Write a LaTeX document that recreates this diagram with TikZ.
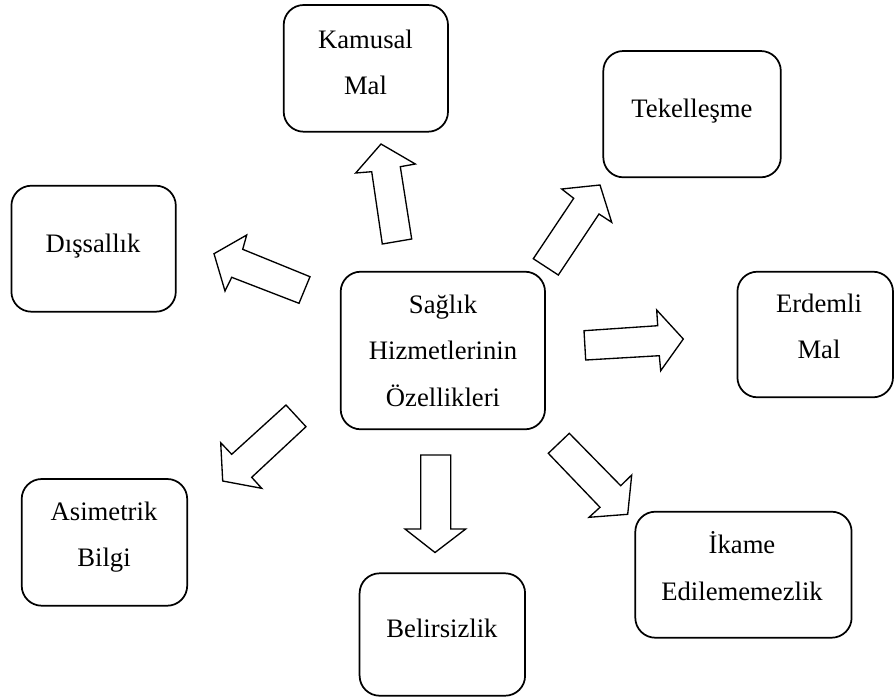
\documentclass[tikz,border=0pt]{standalone}
\usepackage{fontspec}
\setmainfont{Liberation Serif}
\usetikzlibrary{fit}
\begin{document}
\begin{tikzpicture}[x=0.75pt,y=-0.75pt,
  box/.style={draw, line width=1.3pt, rounded corners=15pt, inner sep=0pt},
  txt/.style={align=center, font=\fontsize{20}{34.7}\selectfont, inner sep=0pt},
  blockarrow/.style={draw, line width=1pt, line join=miter, fill=white}]
\useasboundingbox (0,0) rectangle (895,697);

% rounded boxes
\node[box, fit={(340.7,271.7) (545,429.3)}] (center) {};
\node[box, fit={(283.7,5) (448,131.7)}] (kamusal) {};
\node[box, fit={(603.3,51) (780.8,177.3)}] (tekel) {};
\node[box, fit={(11.4,185.7) (175.8,311.7)}] (dissal) {};
\node[box, fit={(737.4,271.7) (893,397.3)}] (erdemli) {};
\node[box, fit={(21.7,479) (187.2,605.7)}] (asimetrik) {};
\node[box, fit={(359.6,573.3) (525.1,695.7)}] (belirsiz) {};
\node[box, fit={(635.3,511.7) (851.6,637.7)}] (ikame) {};

% box texts
\node[txt] (center-text) at (443,350.7) {Sağlık\\Hizmetlerinin\\Özellikleri};
\node[txt] (kamusal-text) at (365.5,62.2) {Kamusal\\Mal};
\node[txt] (tekel-text) at (692,111) {Tekelleşme};
\node[txt] (dissal-text) at (93,246) {Dışsallık};
\node[txt] (erdemli-text) at (819,326.3) {Erdemli\\Mal};
\node[txt] (asimetrik-text) at (104,537) {Asimetrik\\Bilgi};
\node[txt] (belirsiz-text) at (442,628.3) {Belirsizlik};
\node[txt] (ikame-text) at (742,566) {İkame\\Edilememezlik};

% block arrows pointing outwards from the centre box
\draw[blockarrow] (382.3,244) -- (371.7,171.7) -- (355.7,173) -- (381,144)
  -- (415.3,164) -- (400.3,166.7) -- (411.7,239) -- cycle;
\draw[blockarrow] (533.3,258.7) -- (573.7,198.3) -- (561.7,189) -- (600,185)
  -- (611.7,222.3) -- (599,214) -- (558.3,275) -- cycle;
\draw[blockarrow] (214,253.7) -- (246.7,235) -- (242.7,249.3) -- (310,276.7)
  -- (299,303.3) -- (231.7,277.3) -- (225,291) -- cycle;
\draw[blockarrow] (584,330.7) -- (657.7,325.7) -- (656.7,310) -- (683.3,339)
  -- (660.7,370.7) -- (659.3,355.7) -- (585.7,360) -- cycle;
\draw[blockarrow] (286,405) -- (306,426.7) -- (251.7,477.3) -- (261.7,488.3)
  -- (222.7,481) -- (220.7,442.7) -- (231.7,454.3) -- cycle;
\draw[blockarrow] (420.7,455) -- (450.7,455) -- (450.7,529) -- (465.7,529)
  -- (435,552.5) -- (405,529) -- (420.7,529) -- cycle;
\draw[blockarrow] (548.3,453.3) -- (569.3,433.3) -- (620.7,485.7) -- (631.7,475)
  -- (627.7,514.3) -- (589,517.3) -- (600,507.3) -- cycle;
\end{tikzpicture}
\end{document}
